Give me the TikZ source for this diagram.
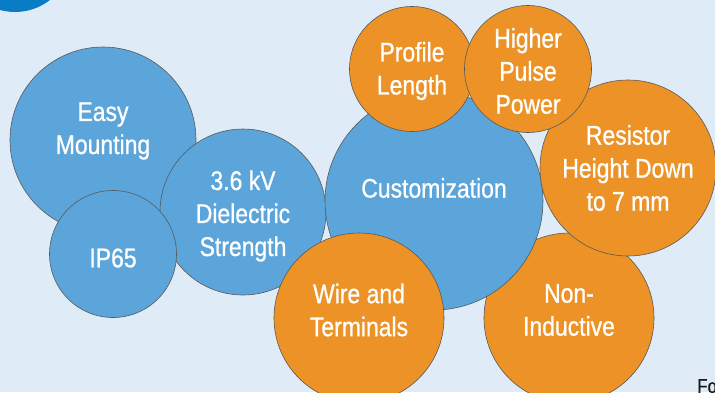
\documentclass[tikz,border=0pt]{standalone}
\usepackage{fontspec}
\setmainfont{Liberation Sans}[FakeStretch=0.85, FakeBold=0.8]
\definecolor{pagebg}{HTML}{DFEBF7}
\definecolor{bubbleblue}{HTML}{5BA5DA}
\definecolor{bubbleorange}{HTML}{EC9226}
\definecolor{cornerblue}{HTML}{0A7CC6}
\tikzset{
  bubble/.style={circle, draw=black!65, line width=0.6pt, inner sep=0pt, minimum size=#1},
  bluebubble/.style={bubble=#1, fill=bubbleblue},
  orangebubble/.style={bubble=#1, fill=bubbleorange},
  caption/.style={text=white, align=center, inner sep=0pt, font=\fontsize{27}{33}\selectfont},
}
\begin{document}
\begin{tikzpicture}[x=1pt, y=-1pt]
  \useasboundingbox (0,0) rectangle (715,392);
  \clip (0,0) rectangle (715,392);
  \fill [pagebg] (0,0) rectangle (715,392);

  % corner mark
  \node [circle, fill=cornerblue, minimum size=114pt, inner sep=0pt] (corner) at (15,-45) {};

  % blue bubbles
  \node [bluebubble=186pt] (easy) at (103,140) {};
  \node [bluebubble=166pt] (kv) at (243,212) {};
  \node [bluebubble=127pt] (ip) at (113,254) {};

  % orange + centre
  \node [orangebubble=170pt] (noninductive) at (569,318) {};
  \node [bluebubble=218pt] (custom) at (434,201) {};
  \node [orangebubble=170pt] (wire) at (359,318) {};
  \node [orangebubble=176pt] (resistor) at (628,168) {};
  \node [orangebubble=125pt] (profile) at (412,69) {};
  \node [orangebubble=127pt] (pulse) at (528,69) {};

  % captions
  \node [caption] (easytext) at (103,131) {Easy\\Mounting};
  \node [caption] (iptext) at (113,258) {IP65};
  \node [caption] (kvtext) at (243,216) {3.6 kV\\Dielectric\\Strength};
  \node [caption] (customtext) at (434,188) {Customization};
  \node [caption] (profiletext) at (412,71) {Profile\\Length};
  \node [caption] (pulsetext) at (528,71) {Higher\\Pulse\\Power};
  \node [caption] (resistortext) at (628,168) {Resistor\\Height Down\\to 7 mm};
  \node [caption] (wiretext) at (359,310) {Wire and\\Terminals};
  \node [caption] (noninductivetext) at (569,310) {Non-\\Inductive};

  \node [anchor=north west, inner sep=0pt, text=black!90, font=\fontsize{20}{22}\selectfont] (fo) at (697,379) {Fo};
\end{tikzpicture}
\end{document}
